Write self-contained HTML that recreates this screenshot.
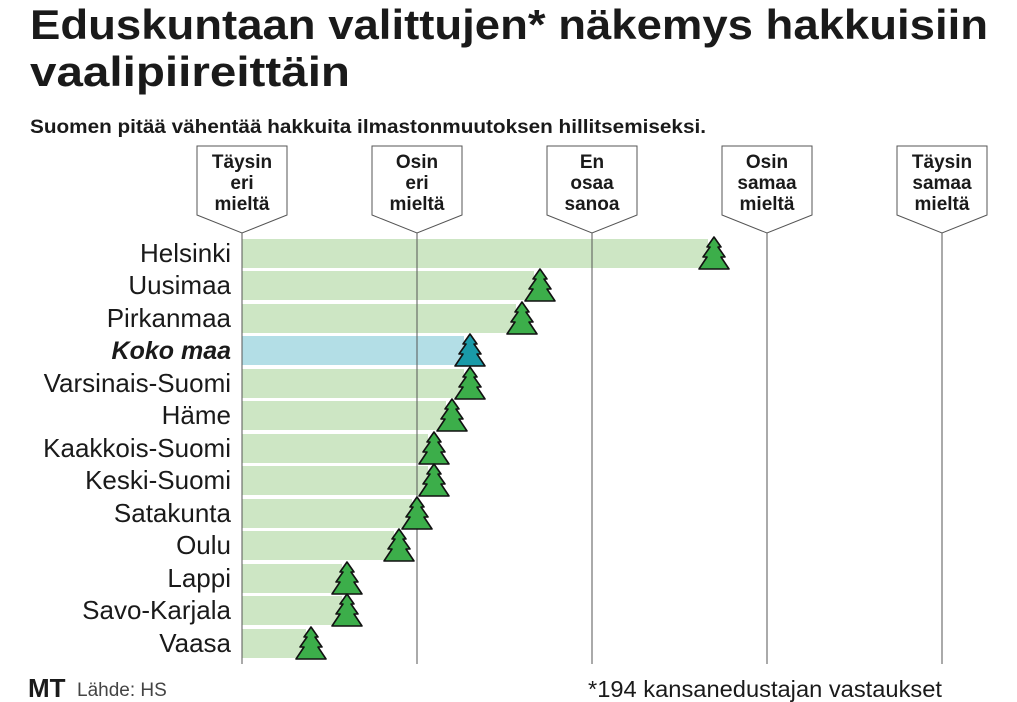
<!DOCTYPE html>
<html><head><meta charset="utf-8"><style>
html,body{margin:0;padding:0;background:#fff;}
svg{display:block;}
text{font-family:"Liberation Sans","DejaVu Sans",sans-serif;}
</style></head><body>
<svg width="1017" height="702" viewBox="0 0 1017 702" xmlns="http://www.w3.org/2000/svg">
<defs>
<polygon id="tr" points="0,-17 7,-7 4,-7 11,3 7,3 15,15 -15,15 -7,3 -11,3 -4,-7 -7,-7" stroke="#111" stroke-width="1.6" stroke-linejoin="round"/>
</defs>
<text x="30" y="39" font-size="42" font-weight="bold" textLength="958" lengthAdjust="spacingAndGlyphs" fill="#1a1a1a">Eduskuntaan valittujen* näkemys hakkuisiin</text>
<text x="30" y="86" font-size="42" font-weight="bold" textLength="320" lengthAdjust="spacingAndGlyphs" fill="#1a1a1a">vaalipiireittäin</text>
<text x="30" y="133" font-size="19" font-weight="bold" textLength="676" lengthAdjust="spacingAndGlyphs" fill="#1a1a1a">Suomen pitää vähentää hakkuita ilmastonmuutoksen hillitsemiseksi.</text>

<g fill="#cde6c4">
<rect x="242" y="239" width="466" height="29"/>
<rect x="242" y="271" width="292" height="29"/>
<rect x="242" y="304" width="274" height="29"/>
<rect x="242" y="336" width="222" height="29" fill="#b3dee6"/>
<rect x="242" y="369" width="222" height="29"/>
<rect x="242" y="401" width="204" height="29"/>
<rect x="242" y="434" width="186" height="29"/>
<rect x="242" y="466" width="186" height="29"/>
<rect x="242" y="499" width="170" height="29"/>
<rect x="242" y="531" width="152" height="29"/>
<rect x="242" y="564" width="100" height="29"/>
<rect x="242" y="596" width="100" height="29"/>
<rect x="242" y="629" width="64" height="29"/>
</g>

<g stroke="#555" stroke-width="1">
<line x1="242" y1="233" x2="242" y2="664"/>
<line x1="417" y1="233" x2="417" y2="664"/>
<line x1="592" y1="233" x2="592" y2="664"/>
<line x1="767" y1="233" x2="767" y2="664"/>
<line x1="942" y1="233" x2="942" y2="664"/>
</g>
<g fill="#fff" stroke="#555" stroke-width="1">
<polygon points="197,146 287,146 287,215 242,233 197,215"/>
<polygon points="372,146 462,146 462,215 417,233 372,215"/>
<polygon points="547,146 637,146 637,215 592,233 547,215"/>
<polygon points="722,146 812,146 812,215 767,233 722,215"/>
<polygon points="897,146 987,146 987,215 942,233 897,215"/>
</g>
<g font-size="19" font-weight="bold" fill="#1a1a1a" text-anchor="middle">
<text x="242" y="168">Täysin</text><text x="242" y="189">eri</text><text x="242" y="210">mieltä</text>
<text x="417" y="168">Osin</text><text x="417" y="189">eri</text><text x="417" y="210">mieltä</text>
<text x="592" y="168">En</text><text x="592" y="189">osaa</text><text x="592" y="210">sanoa</text>
<text x="767" y="168">Osin</text><text x="767" y="189">samaa</text><text x="767" y="210">mieltä</text>
<text x="942" y="168">Täysin</text><text x="942" y="189">samaa</text><text x="942" y="210">mieltä</text>
</g>

<g font-size="26" fill="#1a1a1a" text-anchor="end">
<text x="231" y="262">Helsinki</text>
<text x="231" y="294">Uusimaa</text>
<text x="231" y="327">Pirkanmaa</text>
<text x="231" y="359" font-style="italic" font-weight="bold" font-size="25">Koko maa</text>
<text x="231" y="392">Varsinais-Suomi</text>
<text x="231" y="424">Häme</text>
<text x="231" y="457">Kaakkois-Suomi</text>
<text x="231" y="489">Keski-Suomi</text>
<text x="231" y="522">Satakunta</text>
<text x="231" y="554">Oulu</text>
<text x="231" y="587">Lappi</text>
<text x="231" y="619">Savo-Karjala</text>
<text x="231" y="652">Vaasa</text>
</g>

<g fill="#3cae4a">
<use href="#tr" x="714" y="254"/>
<use href="#tr" x="540" y="286"/>
<use href="#tr" x="522" y="319"/>
<use href="#tr" x="470" y="351" fill="#1a9aa8"/>
<use href="#tr" x="470" y="384"/>
<use href="#tr" x="452" y="416"/>
<use href="#tr" x="434" y="449"/>
<use href="#tr" x="434" y="481"/>
<use href="#tr" x="417" y="514"/>
<use href="#tr" x="399" y="546"/>
<use href="#tr" x="347" y="579"/>
<use href="#tr" x="347" y="611"/>
<use href="#tr" x="311" y="644"/>
</g>

<text x="28" y="697" font-size="26" font-weight="bold" font-family="Liberation Serif, serif" fill="#1a1a1a">MT</text>
<text x="77" y="696" font-size="19" fill="#444">Lähde: HS</text>
<text x="942" y="697" font-size="23" fill="#1a1a1a" text-anchor="end" textLength="354" lengthAdjust="spacingAndGlyphs">*194 kansanedustajan vastaukset</text>
</svg>
</body></html>
